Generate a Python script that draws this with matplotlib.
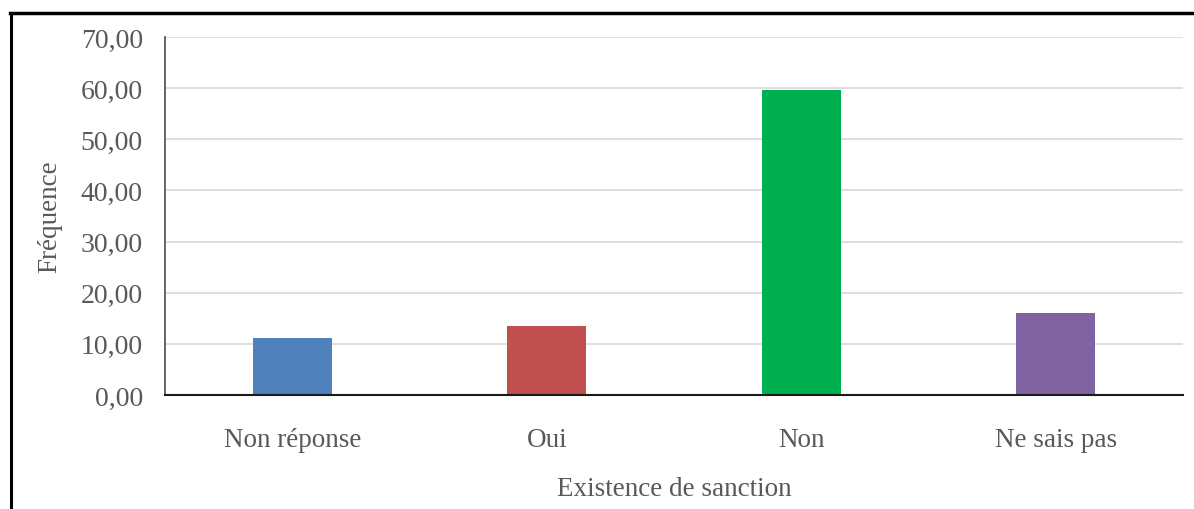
import matplotlib
matplotlib.use("Agg")
import matplotlib.pyplot as plt
from matplotlib.lines import Line2D

categories = ["Non réponse", "Oui", "Non", "Ne sais pas"]
frequences = [11.1, 13.5, 59.6, 16.0]
bar_colors = ["#4F81BD", "#C0504D", "#00B050", "#8064A2"]
y_ticks = [0, 10, 20, 30, 40, 50, 60, 70]
y_tick_labels = ["0,00", "10,00", "20,00", "30,00", "40,00", "50,00", "60,00", "70,00"]

W, H = 1194, 510
plt.rcParams["font.family"] = ["Liberation Serif", "DejaVu Serif"]
text_color = "#595959"

fig = plt.figure(figsize=(W / 100, H / 100), dpi=100)
fig.patch.set_facecolor("white")
ax = fig.add_axes([165 / W, (H - 396) / H, (1183 - 165) / W, (396 - 38) / H])

x = list(range(len(categories)))
ax.bar(x, frequences, width=0.31, color=bar_colors, zorder=3)

ax.set_xlim(-0.5, 3.5)
ax.set_ylim(0, 70)
ax.set_yticks(y_ticks)
ax.set_yticklabels(y_tick_labels)
ax.set_xticks(x)
ax.set_xticklabels(categories)
ax.tick_params(axis="y", length=0, pad=16, labelsize=20, labelcolor=text_color)
ax.tick_params(axis="x", length=0, pad=23, labelsize=19.5, labelcolor=text_color)

ax.grid(axis="y", color="#d9d9d9", linewidth=1.2, zorder=0)
ax.set_axisbelow(True)
for side in ("top", "right"):
    ax.spines[side].set_visible(False)
ax.spines["left"].set_color("#595959")
ax.spines["left"].set_linewidth(1.3)
ax.spines["bottom"].set_color("#1a1a1a")
ax.spines["bottom"].set_linewidth(1.5)
ax.spines["bottom"].set_zorder(4)

ax.set_xlabel("Existence de sanction", fontsize=19.5, color=text_color, labelpad=17)
ax.set_ylabel("Fréquence", fontsize=19.5, color=text_color, labelpad=13)

# outer frame: top and left edges
fig.add_artist(Line2D([10.5 / W, 10.5 / W], [0, (H - 14) / H], transform=fig.transFigure,
                      color="black", linewidth=2.2))
fig.add_artist(Line2D([10 / W, 1], [(H - 14) / H, (H - 14) / H], transform=fig.transFigure,
                      color="black", linewidth=2.5))

fig.savefig("out.png", dpi=100, facecolor="white")
